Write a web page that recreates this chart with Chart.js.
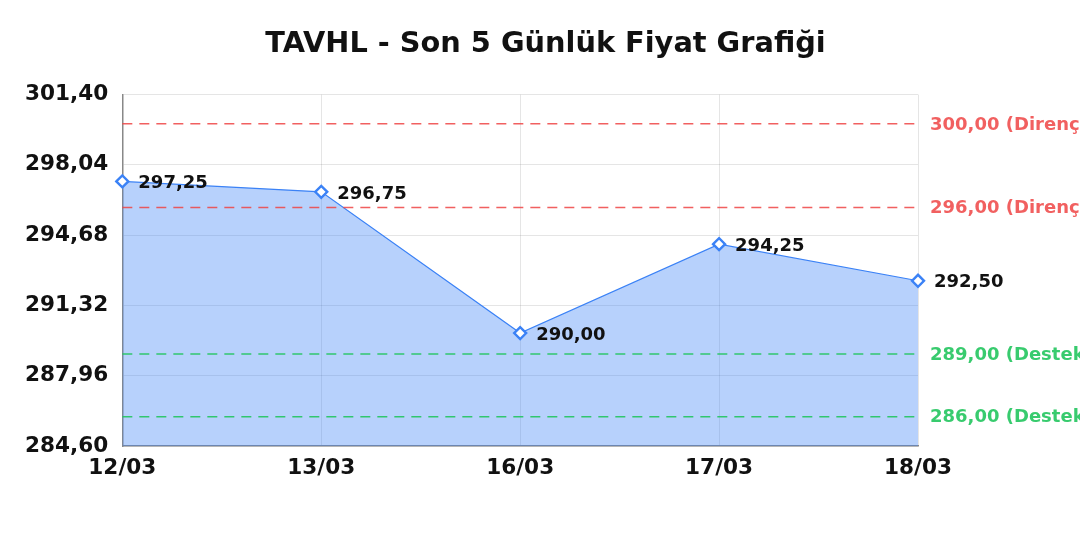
<!DOCTYPE html>
<html>
<head>
<meta charset="utf-8">
<script src="https://cdn.jsdelivr.net/npm/chart.js@4"></script>
<style>
  html, body { margin: 0; padding: 0; background: #fff; }
  #wrap { width: 1080px; height: 540px; }
</style>
</head>
<body>
<div id="wrap"><canvas id="priceChart"></canvas></div>
<script>
const dates = ['12/03', '13/03', '16/03', '17/03', '18/03'];
const prices = [297.25, 296.75, 290.00, 294.25, 292.50];
const resistance = [300.00, 296.00];
const support = [289.00, 286.00];
const yMin = 284.60, yMax = 301.40, yStep = 3.36;

const fmt = v => v.toFixed(2).replace('.', ',');

// dashed support / resistance lines with labels right of the plot
const levelLines = {
  id: 'levelLines',
  afterDatasetsDraw(chart) {
    const { ctx, chartArea, scales } = chart;
    const draw = (val, color, tag) => {
      const y = scales.y.getPixelForValue(val);
      ctx.save();
      ctx.strokeStyle = color;
      ctx.lineWidth = 1.5;
      ctx.setLineDash([10, 7]);
      ctx.beginPath();
      ctx.moveTo(chartArea.left, y);
      ctx.lineTo(chartArea.right, y);
      ctx.stroke();
      ctx.setLineDash([]);
      ctx.fillStyle = color;
      ctx.font = 'bold 18px "DejaVu Sans"';
      ctx.textBaseline = 'middle';
      ctx.fillText(fmt(val) + ' (' + tag + ')', chartArea.right + 12, y + 1);
      ctx.restore();
    };
    resistance.forEach(v => draw(v, 'rgba(239,68,68,0.85)', 'Direnç'));
    support.forEach(v => draw(v, 'rgba(34,197,94,0.9)', 'Destek'));
  }
};

// value labels beside each point
const pointLabels = {
  id: 'pointLabels',
  afterDatasetsDraw(chart) {
    const { ctx } = chart;
    const meta = chart.getDatasetMeta(0);
    ctx.save();
    ctx.fillStyle = '#111';
    ctx.font = 'bold 18px "DejaVu Sans"';
    ctx.textBaseline = 'middle';
    meta.data.forEach((pt, i) => {
      ctx.fillText(fmt(prices[i]), pt.x + 16, pt.y + 2);
    });
    ctx.restore();
  }
};

new Chart(document.getElementById('priceChart'), {
  type: 'line',
  data: {
    labels: dates,
    datasets: [{
      data: prices,
      borderColor: '#3b82f6',
      borderWidth: 1.2,
      backgroundColor: 'rgba(59,130,246,0.37)',
      fill: 'start',
      tension: 0,
      pointStyle: 'rectRot',
      pointRadius: 6,
      pointBorderWidth: 2.4,
      pointBackgroundColor: '#fff',
      pointBorderColor: '#3b82f6'
    }]
  },
  options: {
    responsive: true,
    maintainAspectRatio: false,
    animation: false,
    layout: { padding: { left: 11, right: 0, top: 10, bottom: 50 } },
    plugins: {
      legend: { display: false },
      tooltip: { enabled: false },
      title: {
        display: true,
        text: 'TAVHL - Son 5 Günlük Fiyat Grafiği',
        color: '#111',
        font: { family: 'DejaVu Sans', size: 28.8, weight: 'bold' },
        padding: { top: 17, bottom: 33 }
      }
    },
    scales: {
      x: {
        offset: false,
        grid: { color: 'rgba(0,0,0,0.1)', drawTicks: false },
        border: { color: '#888', width: 1.5 },
        ticks: { color: '#111', font: { family: 'DejaVu Sans', size: 21.6, weight: 'bold' }, padding: 9 }
      },
      y: {
        min: yMin,
        max: yMax,
        grid: { color: 'rgba(0,0,0,0.1)', drawTicks: false },
        border: { color: '#888', width: 1.5 },
        afterBuildTicks(axis) {
          const t = [];
          for (let i = 0; i <= 5; i++) t.push({ value: yMin + i * yStep });
          axis.ticks = t;
        },
        ticks: {
          color: '#111',
          font: { family: 'DejaVu Sans', size: 21.6, weight: 'bold' },
          padding: 14,
          callback: v => fmt(v)
        }
      },
      // empty right axis: reserves room for the level labels
      yRight: {
        position: 'right',
        min: yMin,
        max: yMax,
        grid: { display: false },
        border: { display: false },
        ticks: { display: false },
        afterFit(axis) { axis.width = 162; }
      }
    }
  },
  plugins: [levelLines, pointLabels]
});
</script>
</body>
</html>
